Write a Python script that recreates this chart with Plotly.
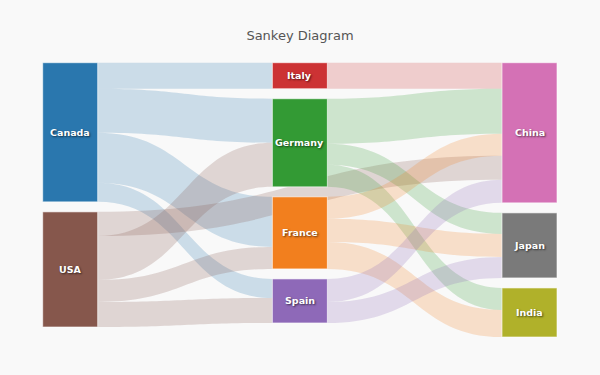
import plotly.graph_objects as go

# ---- data ----
node_names = ["Canada", "USA", "Italy", "Germany", "France", "Spain", "China", "Japan", "India"]
node_colors = ["#2a77ae", "#86574c", "#cc3234", "#339a34", "#f27f1e", "#8e69b8", "#d471b5", "#7a7a7a", "#b0b12a"]
node_columns = [0, 0, 1, 1, 1, 1, 2, 2, 2]

link_source = ["Canada", "Canada", "Canada", "Canada",
               "USA", "USA", "USA", "USA",
               "Italy",
               "Germany", "Germany", "Germany",
               "France", "France", "France",
               "Spain", "Spain"]
link_target = ["Italy", "Germany", "France", "Spain",
               "China", "Germany", "France", "Spain",
               "China",
               "China", "Japan", "India",
               "China", "Japan", "India",
               "China", "Japan"]
link_value = [26, 44, 50, 19,
              24, 44, 22, 25,
              26,
              45, 21, 22,
              22, 23, 27,
              23, 21]

# ---- layout constants ----
W, H = 600, 375
top_px, bot_px = 62.7, 337.0
left_px, right_px = 42.7, 557.0
thick = 55
gap = 10
dom_h = bot_px - top_px
col_centers_px = [left_px + thick / 2, (left_px + right_px) / 2, right_px - thick / 2]

idx = {n: i for i, n in enumerate(node_names)}
src = [idx[s] for s in link_source]
tgt = [idx[t] for t in link_target]

# node sizes = max(in, out)
inflow = [0] * len(node_names)
outflow = [0] * len(node_names)
for s, t, v in zip(src, tgt, link_value):
    outflow[s] += v
    inflow[t] += v
size = [max(a, b) for a, b in zip(inflow, outflow)]

ncols = max(node_columns) + 1
ky = min((dom_h - (sum(1 for c in node_columns if c == k) - 1) * gap) /
         sum(size[i] for i in range(len(size)) if node_columns[i] == k) for k in range(ncols))

node_x, node_y = [], []
cursor = [0.0] * ncols
centers_px = []
for i, c in enumerate(node_columns):
    h = size[i] * ky
    cy = cursor[c] + h / 2
    cursor[c] += h + gap
    node_x.append(col_centers_px[c] / W)
    node_y.append(cy / dom_h)
    centers_px.append((col_centers_px[c], top_px + cy))


def rgba(hx, a):
    hx = hx.lstrip("#")
    r, g, b = int(hx[0:2], 16), int(hx[2:4], 16), int(hx[4:6], 16)
    return f"rgba({r},{g},{b},{a})"


link_colors = [rgba(node_colors[s], 0.22) for s in src]

fig = go.Figure(go.Sankey(
    arrangement="fixed",
    domain=dict(x=[0, 1], y=[1 - bot_px / H, 1 - top_px / H]),
    node=dict(
        label=node_names,
        color=node_colors,
        x=node_x,
        y=node_y,
        pad=gap,
        thickness=thick,
        line=dict(color="rgba(255,255,255,0.6)", width=1),
    ),
    link=dict(source=src, target=tgt, value=link_value, color=link_colors),
    textfont=dict(color="rgba(0,0,0,0)", size=1),
))

for name, (cx, cy) in zip(node_names, centers_px):
    fig.add_annotation(
        x=cx / W, y=1 - cy / H, xref="paper", yref="paper",
        text=f"<b>{name}</b>", showarrow=False,
        font=dict(family="DejaVu Sans, Verdana, sans-serif", size=9.5, color="white",
                  shadow="1px 1px 2px rgba(0,0,0,0.6)"),
        xanchor="center", yanchor="middle",
    )

fig.update_layout(
    width=W, height=H,
    margin=dict(l=0, r=0, t=0, b=0),
    paper_bgcolor="#f9f9f9",
    plot_bgcolor="#f9f9f9",
    title=dict(text="Sankey Diagram", x=0.5, xanchor="center", y=1 - 35 / H, yanchor="middle",
               font=dict(family="DejaVu Sans, Verdana, sans-serif", size=13, color="#555")),
)

fig.write_html("out.html", config={"displayModeBar": False},
               post_script="document.body.style.margin='0';document.body.style.background='#f9f9f9';")
